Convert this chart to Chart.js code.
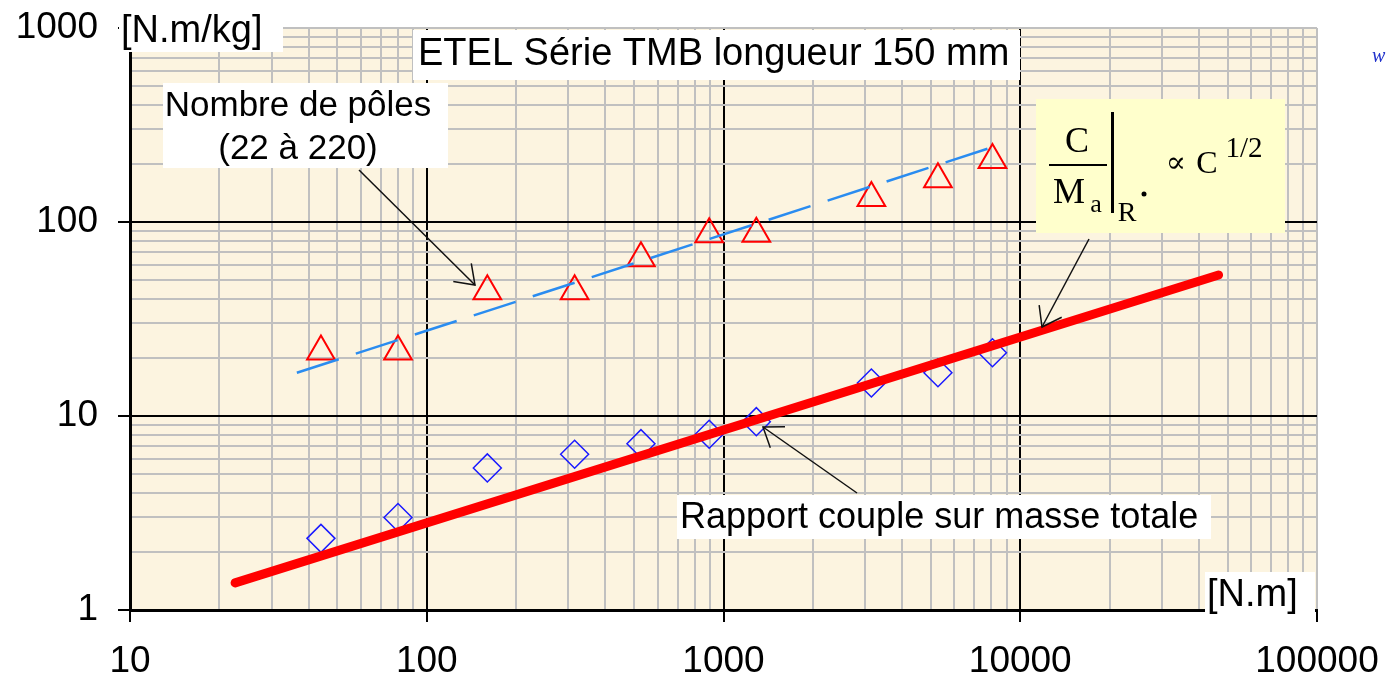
<!DOCTYPE html>
<html>
<head>
<meta charset="utf-8">
<script src="https://cdn.jsdelivr.net/npm/chart.js@4/dist/chart.umd.min.js"></script>
<style>
  html, body { margin: 0; padding: 0; background: #fff; }
  #wrap { width: 1389px; height: 681px; position: relative; }
</style>
</head>
<body>
<div id="wrap"><canvas id="chart" width="1389" height="681"></canvas></div>
<script>
// ETEL série TMB, longueur 150 mm : couple massique en fonction du couple
const torque = [44, 80, 160, 315, 527, 895, 1290, 3150, 5280, 8060];
const poles = [21.5, 21.5, 44, 44, 65, 86.5, 87, 133, 166, 209];
const torquePerMass = [2.34, 3.0, 5.4, 6.35, 7.2, 8.05, 9.35, 14.8, 16.7, 21.2];

// tendance du nombre de pôles (tirets bleus)
const polesFitX = [36.5, 8800];
const polesFitY = [16.7, 254];

// loi en C^1/2 (trait rouge)
const sqrtLawX = [22.6, 46600];
const sqrtLawY = [1.38, 53.3];

const xTicks = [10, 100, 1000, 10000, 100000];
const yTicks = [1, 10, 100, 1000];

const FONT = '"Liberation Sans", Arial, sans-serif';
const SERIF = '"Liberation Serif", "Times New Roman", serif';

// decades + 2..9 lines in between
function logTicks(decades) {
    const out = [];
    decades.forEach((d, i) => {
        out.push({ value: d, major: true });
        if (i < decades.length - 1) {
            for (let k = 2; k <= 9; k++) out.push({ value: d * k, major: false });
        }
    });
    return out;
}

function gridColor(decades) {
    return (ctx) => {
        const t = ctx.tick;
        if (!t) return '#c0c0c0';
        const inner = t.major && t.value !== decades[0] && t.value !== decades[decades.length - 1];
        return inner ? '#000' : '#c0c0c0';
    };
}

const paperBg = {
    id: 'paperBg',
    beforeDraw(chart) {
        const { ctx, chartArea: a } = chart;
        ctx.save();
        ctx.fillStyle = '#fcf4e0';
        ctx.fillRect(a.left, a.top, a.right - a.left, a.bottom - a.top);
        ctx.restore();
    }
};

function whiteBox(ctx, x, y, w, h, fill) {
    ctx.fillStyle = fill || '#fff';
    ctx.fillRect(x, y, w, h);
}

function arrow(ctx, x1, y1, x2, y2) {
    ctx.strokeStyle = '#111';
    ctx.lineWidth = 1.5;
    ctx.beginPath();
    ctx.moveTo(x1, y1);
    ctx.lineTo(x2, y2);
    ctx.stroke();
    const ang = Math.atan2(y2 - y1, x2 - x1);
    const len = 22, spread = 0.62;
    ctx.beginPath();
    ctx.moveTo(x2 - len * Math.cos(ang - spread), y2 - len * Math.sin(ang - spread));
    ctx.lineTo(x2, y2);
    ctx.lineTo(x2 - len * Math.cos(ang + spread), y2 - len * Math.sin(ang + spread));
    ctx.stroke();
}

const annotations = {
    id: 'annotations',
    afterDraw(chart) {
        const ctx = chart.ctx;
        ctx.save();
        ctx.fillStyle = '#000';
        ctx.textBaseline = 'middle';

        // axis units
        whiteBox(ctx, 119, 0, 164, 52);
        ctx.fillStyle = '#000';
        ctx.font = '38px ' + FONT;
        ctx.textAlign = 'left';
        ctx.fillText('[N.m/kg]', 121, 32);

        whiteBox(ctx, 1205, 572, 110, 46);
        ctx.fillStyle = '#000';
        ctx.fillText('[N.m]', 1207, 596);

        // title
        whiteBox(ctx, 413, 30, 607, 50);
        ctx.fillStyle = '#000';
        ctx.font = '38px ' + FONT;
        ctx.fillText('ETEL Série TMB longueur 150 mm', 418, 55);

        // nombre de pôles
        whiteBox(ctx, 163, 83, 285, 85);
        ctx.fillStyle = '#000';
        ctx.font = '35px ' + FONT;
        ctx.textAlign = 'center';
        ctx.fillText('Nombre de pôles', 298, 106);
        ctx.fillText('(22 à 220)', 298, 149);
        arrow(ctx, 359, 170, 475, 285);

        // rapport couple sur masse totale
        whiteBox(ctx, 677, 495, 534, 44);
        ctx.fillStyle = '#000';
        ctx.font = '36px ' + FONT;
        ctx.textAlign = 'left';
        ctx.fillText('Rapport couple sur masse totale', 680, 518);
        arrow(ctx, 857, 493, 763, 427);

        // formule C/Ma |R* ∝ C^1/2
        whiteBox(ctx, 1036, 99, 249, 134, '#ffffcc');
        ctx.fillStyle = '#000';
        ctx.textBaseline = 'alphabetic';
        ctx.textAlign = 'center';
        ctx.font = '36px ' + SERIF;
        ctx.fillText('C', 1077, 152);
        ctx.fillRect(1049, 164, 58, 2);
        ctx.fillText('M', 1069, 203);
        ctx.font = '26px ' + SERIF;
        ctx.fillText('a', 1096, 212);
        ctx.fillRect(1111, 112, 3, 101);
        ctx.font = '28px ' + SERIF;
        ctx.fillText('R', 1127, 221);
        ctx.beginPath();
        ctx.arc(1144, 194, 2.5, 0, Math.PI * 2);
        ctx.fill();
        ctx.font = '30px "DejaVu Serif", serif';
        ctx.fillText('\u221D', 1176, 172);
        ctx.font = '32px ' + SERIF;
        ctx.fillText('C', 1207, 173);
        ctx.font = '29px ' + SERIF;
        ctx.fillText('1/2', 1244, 157);
        arrow(ctx, 1089, 239, 1042, 327);

        // bout de texte coupé en haut à droite
        ctx.fillStyle = '#2233cc';
        ctx.font = 'italic 20px ' + SERIF;
        ctx.textAlign = 'left';
        ctx.fillText('w', 1372, 62);

        ctx.restore();
    }
};

const ctx = document.getElementById('chart');

new Chart(ctx, {
    type: 'scatter',
    data: {
        datasets: [
            {
                label: 'Nombre de pôles',
                data: torque.map((x, i) => ({ x: x, y: poles[i] })),
                pointStyle: 'triangle',
                pointRadius: 16,
                pointBorderColor: '#ff0000',
                pointBackgroundColor: 'rgba(0,0,0,0)',
                pointBorderWidth: 2,
                showLine: false,
                order: 2
            },
            {
                label: 'Rapport couple sur masse totale',
                data: torque.map((x, i) => ({ x: x, y: torquePerMass[i] })),
                pointStyle: 'rectRot',
                pointRadius: 14,
                pointBorderColor: '#1a1aff',
                pointBackgroundColor: 'rgba(0,0,0,0)',
                pointBorderWidth: 1.5,
                showLine: false,
                order: 2
            },
            {
                label: 'Tendance pôles',
                data: polesFitX.map((x, i) => ({ x: x, y: polesFitY[i] })),
                showLine: true,
                borderColor: '#2a8cf0',
                borderWidth: 2.5,
                borderDash: [44, 18],
                pointRadius: 0,
                order: 1
            },
            {
                label: 'C^1/2',
                data: sqrtLawX.map((x, i) => ({ x: x, y: sqrtLawY[i] })),
                showLine: true,
                borderColor: '#ff0000',
                borderWidth: 9,
                borderCapStyle: 'round',
                pointRadius: 0,
                order: 0
            }
        ]
    },
    options: {
        responsive: false,
        animation: false,
        events: [],
        layout: { padding: { top: 28, right: 72, left: 0, bottom: 0 } },
        plugins: {
            legend: { display: false },
            tooltip: { enabled: false }
        },
        scales: {
            x: {
                type: 'logarithmic',
                min: 10,
                max: 100000,
                afterBuildTicks: (scale) => { scale.ticks = logTicks(xTicks); },
                afterFit: (scale) => {
                    scale.height = 71;
                    scale.paddingLeft = 0;
                    scale.paddingRight = 0;
                },
                grid: {
                    color: gridColor(xTicks),
                    lineWidth: 2,
                    tickLength: 12,
                    tickWidth: 2,
                    tickColor: (c) => (c.tick && c.tick.major ? '#000' : 'rgba(0,0,0,0)')
                },
                border: { display: true, color: '#000', width: 3 },
                ticks: {
                    autoSkip: false,
                    maxRotation: 0,
                    padding: 18,
                    color: '#000',
                    font: { family: FONT, size: 37 },
                    callback: (v) => (xTicks.includes(v) ? String(v) : '')
                }
            },
            y: {
                type: 'logarithmic',
                min: 1,
                max: 1000,
                afterBuildTicks: (scale) => { scale.ticks = logTicks(yTicks); },
                afterFit: (scale) => {
                    scale.width = 130;
                    scale.paddingTop = 0;
                    scale.paddingBottom = 0;
                },
                grid: {
                    color: gridColor(yTicks),
                    lineWidth: 2,
                    tickLength: 12,
                    tickWidth: 2,
                    tickColor: (c) => (c.tick && c.tick.major ? '#000' : 'rgba(0,0,0,0)')
                },
                border: { display: true, color: '#000', width: 3 },
                ticks: {
                    autoSkip: false,
                    padding: 20,
                    color: '#000',
                    font: { family: FONT, size: 37 },
                    callback: (v) => (yTicks.includes(v) ? String(v) : '')
                }
            }
        }
    },
    plugins: [paperBg, annotations]
});
</script>
</body>
</html>
